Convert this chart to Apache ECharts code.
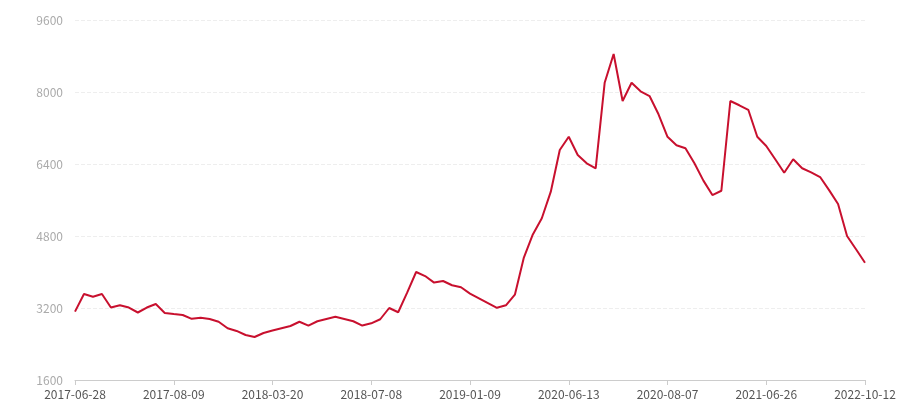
<!DOCTYPE html>
<html>
<head>
<meta charset="utf-8">
<script src="https://cdn.jsdelivr.net/npm/echarts@6/dist/echarts.min.js"></script>
<style>
  html, body { margin: 0; padding: 0; background: #fff; }
  #chart { width: 900px; height: 400px; }
</style>
</head>
<body>
<div id="chart"></div>
<script>
// 日期（每11个显示一个）
const dates = [
  '2017-06-28', '2017-07-02', '2017-07-05', '2017-07-09', '2017-07-12', '2017-07-16',
  '2017-07-19', '2017-07-23', '2017-07-26', '2017-07-30', '2017-08-03', '2017-08-09',
  '2017-08-30', '2017-09-20', '2017-10-11', '2017-11-01', '2017-11-22', '2017-12-13',
  '2018-01-03', '2018-01-24', '2018-02-14', '2018-03-07', '2018-03-20',
  '2018-03-30', '2018-04-09', '2018-04-19', '2018-04-29', '2018-05-09', '2018-05-19',
  '2018-05-29', '2018-06-08', '2018-06-18', '2018-06-28', '2018-07-08',
  '2018-07-25', '2018-08-11', '2018-08-28', '2018-09-14', '2018-10-01', '2018-10-18',
  '2018-11-04', '2018-11-21', '2018-12-08', '2018-12-25', '2019-01-09',
  '2019-02-24', '2019-04-10', '2019-05-26', '2019-07-11', '2019-08-26', '2019-10-11',
  '2019-11-26', '2020-01-11', '2020-02-26', '2020-04-12', '2020-06-13',
  '2020-06-18', '2020-06-23', '2020-06-28', '2020-07-03', '2020-07-08', '2020-07-13',
  '2020-07-18', '2020-07-23', '2020-07-28', '2020-08-02', '2020-08-07',
  '2020-09-05', '2020-10-04', '2020-11-02', '2020-12-01', '2020-12-30', '2021-01-28',
  '2021-02-26', '2021-03-27', '2021-04-25', '2021-05-24', '2021-06-26',
  '2021-08-08', '2021-09-20', '2021-11-02', '2021-12-15', '2022-01-27', '2022-03-11',
  '2022-04-23', '2022-06-05', '2022-07-18', '2022-08-30', '2022-10-12'
]

// 价格
const prices = [
  3120, 3510, 3450, 3510, 3210, 3260, 3210, 3100, 3210, 3290, 3090, 3065,
  3045, 2960, 2985, 2955, 2895, 2750, 2690, 2600, 2555, 2645, 2700,
  2750, 2800, 2895, 2810, 2905, 2955, 3005, 2955, 2905, 2810, 2860,
  2950, 3200, 3105, 3540, 4000, 3910, 3765, 3800, 3705, 3660, 3520,
  3415, 3310, 3205, 3260, 3495, 4320, 4835, 5195, 5785, 6710, 7005,
  6600, 6415, 6305, 8205, 8845, 7800, 8205, 8015, 7910, 7505, 7005,
  6815, 6750, 6415, 6030, 5710, 5805, 7800, 7705, 7605, 7005, 6800,
  6505, 6205, 6505, 6305, 6215, 6110, 5820, 5510, 4800, 4505, 4205
]

// y轴刻度
const yMin = 1600
const yMax = 9600
const yStep = 1600

const myChart = echarts.init(document.getElementById('chart'))
const option = {
  animation: false,
  grid: {
    left: 75,
    right: 35,
    top: 20,
    bottom: 20,
    containLabel: false
  },
  xAxis: {
    type: 'category',
    boundaryGap: false,
    data: dates,
    axisLine: { lineStyle: { color: '#ccc' } },
    axisTick: { interval: 10, lineStyle: { color: '#ccc' } },
    axisLabel: {
      interval: 10,
      color: '#555',
      fontSize: 12,
      fontFamily: 'Noto Sans CJK SC',
      margin: 8
    }
  },
  yAxis: {
    type: 'value',
    min: yMin,
    max: yMax,
    interval: yStep,
    axisLine: { show: false },
    axisTick: { show: false },
    axisLabel: {
      color: '#aaa',
      fontSize: 12,
      fontFamily: 'Noto Sans CJK SC',
      margin: 12,
      formatter: v => String(v)
    },
    splitLine: { lineStyle: { color: '#eee', type: 'dashed' } }
  },
  series: [
    {
      type: 'line',
      data: prices,
      showSymbol: false,
      lineStyle: { color: '#c8102e', width: 2 },
      itemStyle: { color: '#c8102e' }
    }
  ]
}
myChart.setOption(option)
</script>
</body>
</html>
